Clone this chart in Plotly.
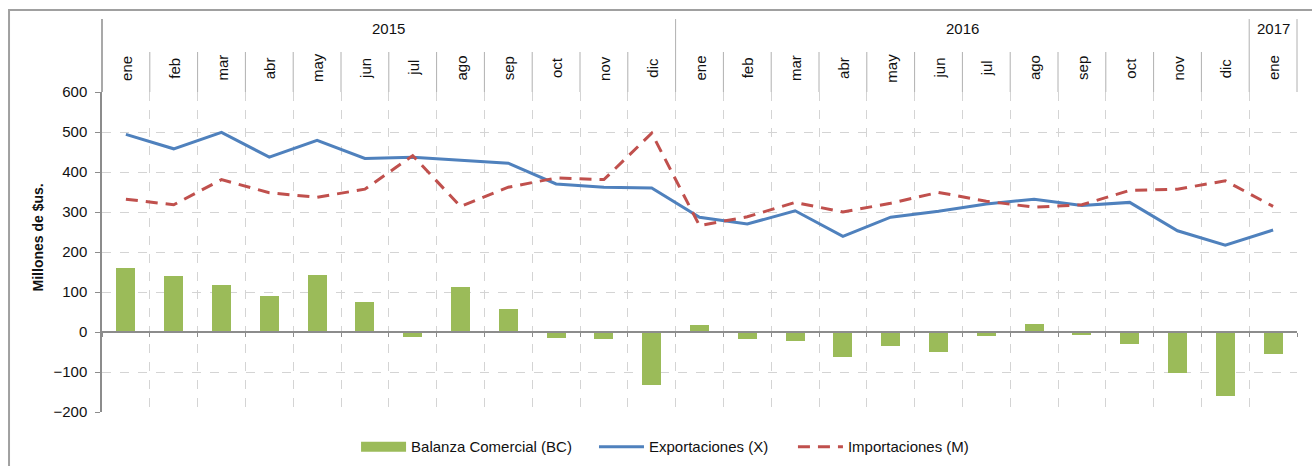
import plotly.graph_objects as go

# ---------------- data ----------------
months = ["ene", "feb", "mar", "abr", "may", "jun", "jul", "ago", "sep", "oct", "nov", "dic",
          "ene", "feb", "mar", "abr", "may", "jun", "jul", "ago", "sep", "oct", "nov", "dic",
          "ene"]
years = ["2015", "2016", "2017"]
year_counts = [12, 12, 1]

balanza = [160, 141, 117, 89, 142, 76, -12, 112, 58, -16, -18, -133,
           18, -18, -22, -62, -36, -51, -9, 21, -7, -29, -102, -161,
           -56]
exportaciones = [494, 458, 499, 437, 479, 434, 437, 429, 422, 370, 362, 360,
                 287, 270, 303, 239, 287, 302, 320, 332, 316, 324, 253, 217,
                 255]
importaciones = [332, 318, 381, 348, 337, 357, 441, 314, 362, 385, 381, 497,
                 266, 288, 324, 300, 322, 349, 327, 312, 318, 354, 357, 378,
                 314]

y_ticks = [-200, -100, 0, 100, 200, 300, 400, 500, 600]

FONT = "Liberation Sans"
TXT = "#111111"
GRID = "#d4d4d4"
AXIS = "#8c8c8c"
SEP = "#b0b0b0"
FS = 15

idx = list(range(len(months)))
n = len(months)

fig = go.Figure()
fig.add_trace(go.Bar(x=idx, y=balanza, width=0.4, marker=dict(color="#9BBB59", line=dict(width=0)),
                     showlegend=False, name="Balanza Comercial (BC)"))
# legend proxy for the bar series (wide rectangle like the original)
fig.add_trace(go.Scatter(x=[None], y=[None], mode="lines", name="Balanza Comercial (BC)",
                         line=dict(color="#9BBB59", width=12), legend="legend"))
fig.add_trace(go.Scatter(x=idx, y=exportaciones, mode="lines", name="Exportaciones (X)",
                         line=dict(color="#4F81BD", width=3), legend="legend2"))
fig.add_trace(go.Scatter(x=idx, y=importaciones, mode="lines", name="Importaciones (M)",
                         line=dict(color="#C0504D", width=3, dash="12px,8px"), legend="legend3"))

shapes = []
annotations = []

# header: axis extension, month separators, year separators
Y_TOP_YEAR = 1.228
Y_TOP_MONTH = 1.125
shapes.append(dict(type="line", xref="paper", yref="paper", x0=0, x1=0, y0=1, y1=Y_TOP_YEAR,
                   line=dict(color=AXIS, width=1.5)))
year_ends = []
acc = 0
for c in year_counts:
    acc += c
    year_ends.append(acc)
for b in range(1, n + 1):
    xp = b / n
    top = Y_TOP_YEAR if b in year_ends else Y_TOP_MONTH
    shapes.append(dict(type="line", xref="paper", yref="paper", x0=xp, x1=xp, y0=1, y1=top,
                       line=dict(color=SEP, width=1)))

# outer frame
shapes.append(dict(type="rect", xref="paper", yref="paper", x0=-0.0778, x1=1.02, y0=-0.3, y1=1.256,
                   line=dict(color="#a0a0a0", width=2), layer="below"))

for i, m in enumerate(months):
    annotations.append(dict(x=i, y=1.075, xref="x", yref="paper", text=m, textangle=-90,
                            xanchor="center", yanchor="middle",
                            showarrow=False, font=dict(family=FONT, size=FS, color=TXT)))
start = 0
for yl, c in zip(years, year_counts):
    annotations.append(dict(x=start + (c - 1) / 2, y=1.197, xref="x", yref="paper", text=yl,
                            xanchor="center", yanchor="middle",
                            showarrow=False, font=dict(family=FONT, size=FS, color=TXT)))
    start += c

annotations.append(dict(x=-0.054, y=0.547, xref="paper", yref="paper", text="<b>Millones de $us.</b>",
                        xanchor="center", yanchor="middle",
                        textangle=-90, showarrow=False, font=dict(family=FONT, size=14, color=TXT)))

leg_common = dict(orientation="h", xanchor="left", y=-0.109, yanchor="middle",
                  font=dict(family=FONT, size=FS, color=TXT), itemwidth=45,
                  bgcolor="rgba(0,0,0,0)")

fig.update_layout(
    width=1312, height=466,
    margin=dict(l=102, r=15, t=92, b=54, autoexpand=False),
    paper_bgcolor="white", plot_bgcolor="white",
    font=dict(family=FONT, size=FS, color=TXT),
    bargap=0,
    shapes=shapes,
    annotations=annotations,
    legend=dict(x=0.2126, **leg_common),
    legend2=dict(x=0.4117, **leg_common),
    legend3=dict(x=0.5782, **leg_common),
    xaxis=dict(range=[-0.5, n - 0.5], tickmode="array",
               tickvals=[b - 0.5 for b in range(0, n + 1)], ticktext=["" for _ in range(n + 1)],
               showgrid=True, gridcolor=GRID, griddash="dash", gridwidth=1,
               showline=True, linecolor=AXIS, linewidth=1.5,
               ticks="outside", ticklen=4, tickcolor=AXIS,
               anchor="free", position=0.25, zeroline=False, fixedrange=True),
    yaxis=dict(range=[-200, 600], tickmode="array", tickvals=y_ticks,
               showgrid=True, gridcolor=GRID, griddash="dash", gridwidth=1,
               showline=True, linecolor=AXIS, linewidth=1.5,
               ticks="outside", ticklen=5, tickcolor=AXIS, ticklabelstandoff=5,
               zeroline=False, tickfont=dict(family=FONT, size=FS, color=TXT)),
)

fig.write_html("out.html", config={"displayModeBar": False},
               post_script="document.body.style.margin='0';document.body.style.overflow='hidden';")
